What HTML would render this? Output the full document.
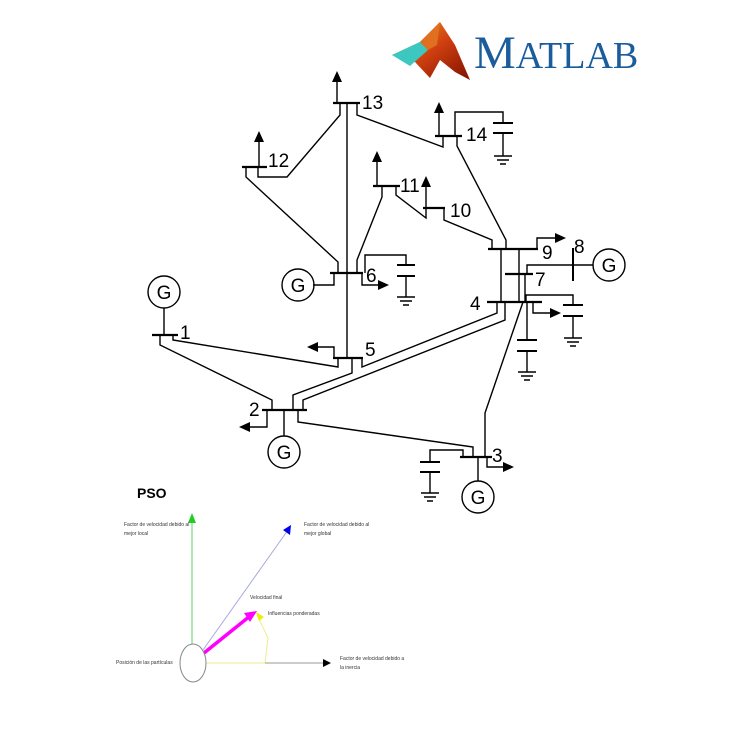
<!DOCTYPE html>
<html><head><meta charset="utf-8"><style>
html,body{margin:0;padding:0;background:#fff;}
svg{display:block;}
text{font-family:"Liberation Sans",sans-serif;}
</style></head><body>
<svg width="750" height="750" viewBox="0 0 750 750" xmlns="http://www.w3.org/2000/svg">
<defs>
<linearGradient id="mg" x1="0" y1="0" x2="1" y2="1">
<stop offset="0" stop-color="#f0a020"/><stop offset="0.5" stop-color="#d04010"/><stop offset="1" stop-color="#801000"/>
</linearGradient>
</defs>
<!-- MATLAB logo -->
<polygon points="392,55 420,42 440,22 455,45 470,80 455,72 440,60 430,78 415,62" fill="url(#mg)"/>
<polygon points="392,55 420,42 428,50 410,66" fill="#3cc8c0"/>
<polygon points="420,42 440,22 437,45 428,50" fill="#e07020"/>
<text x="474" y="68" style="font-family:'Liberation Serif',serif" font-size="47" fill="#1a5c9c">M<tspan font-size="38">ATLAB</tspan></text>

<g stroke="#000" stroke-width="1.4" fill="none">
<line x1="333" y1="103" x2="360" y2="103" stroke-width="2.2"/>
<line x1="337" y1="103" x2="337" y2="80"/>
<line x1="347" y1="103" x2="347" y2="358"/>
<polyline points="340,103 340,115 287,177 258,177 258,167"/>
<polyline points="357,103 357,115 443,147 443,136"/>
<line x1="242" y1="167" x2="267" y2="167" stroke-width="2.2"/>
<line x1="259" y1="167" x2="259" y2="140"/>
<polyline points="246,167 246,177 338,262 338,273"/>
<line x1="435" y1="136" x2="462" y2="136" stroke-width="2.2"/>
<line x1="439" y1="136" x2="439" y2="111"/>
<polyline points="455,136 455,112 503,112 503,123"/>
<line x1="493" y1="123" x2="513" y2="123" stroke-width="2"/>
<line x1="493" y1="133" x2="513" y2="133" stroke-width="2"/>
<line x1="503" y1="133" x2="503" y2="156"/>
<polyline points="457,136 457,146 506,240 506,249"/>
<line x1="373" y1="186" x2="400" y2="186" stroke-width="2.2"/>
<line x1="377" y1="186" x2="377" y2="160"/>
<polyline points="382,186 382,197 357,260 357,273"/>
<polyline points="396,186 396,195 426,218 426,208"/>
<line x1="423" y1="208" x2="445" y2="208" stroke-width="2.2"/>
<line x1="426" y1="208" x2="426" y2="185"/>
<polyline points="444,208 444,220 492,240 492,249"/>
<line x1="488" y1="249" x2="538" y2="249" stroke-width="2.2"/>
<polyline points="537,249 537,238 558,238"/>
<line x1="501" y1="249" x2="501" y2="302"/>
<line x1="519" y1="249" x2="519" y2="302"/>
<line x1="505" y1="274" x2="533" y2="274" stroke-width="2.2"/>
<polyline points="527,274 527,265 593,265"/>
<line x1="573" y1="248" x2="573" y2="281" stroke-width="2"/>
<line x1="525" y1="274" x2="525" y2="302"/>
<line x1="487" y1="302" x2="542" y2="302" stroke-width="2.2"/>
<polyline points="533,302 533,313 552,313"/>
<polyline points="526,302 526,295 573,295 573,305"/>
<line x1="563" y1="305" x2="583" y2="305" stroke-width="2"/>
<line x1="563" y1="316" x2="583" y2="316" stroke-width="2"/>
<line x1="573" y1="316" x2="573" y2="338"/>
<line x1="527" y1="302" x2="527" y2="340"/>
<line x1="517" y1="340" x2="537" y2="340" stroke-width="2"/>
<line x1="517" y1="351" x2="537" y2="351" stroke-width="2"/>
<line x1="527" y1="351" x2="527" y2="372"/>
<polyline points="497,302 497,313 362,367 362,358"/>
<polyline points="505,302 505,320 303,400 303,410"/>
<polyline points="523,302 485,413 485,457"/>
<line x1="330" y1="273" x2="363" y2="273" stroke-width="2.2"/>
<polyline points="313,285 334,285 334,273"/>
<polyline points="362,273 362,285 380,285"/>
<polyline points="365,273 365,255 406,255 406,265"/>
<line x1="397" y1="265" x2="415" y2="265" stroke-width="2"/>
<line x1="397" y1="276" x2="415" y2="276" stroke-width="2"/>
<line x1="406" y1="276" x2="406" y2="297"/>
<line x1="333" y1="358" x2="363" y2="358" stroke-width="2.2"/>
<polyline points="334,358 334,347 316,347"/>
<polyline points="352,358 352,373 293,395 293,410"/>
<line x1="152" y1="335" x2="178" y2="335" stroke-width="2.2"/>
<line x1="164" y1="308" x2="164" y2="335"/>
<polyline points="173,335 173,340 338,367 338,358"/>
<polyline points="160,335 160,345 272,400 272,410"/>
<line x1="262" y1="410" x2="307" y2="410" stroke-width="2.2"/>
<polyline points="267,410 267,427 248,427"/>
<line x1="284" y1="410" x2="284" y2="436"/>
<polyline points="298,410 298,422 473,447 473,457"/>
<line x1="460" y1="457" x2="492" y2="457" stroke-width="2.2"/>
<polyline points="487,457 487,467 505,467"/>
<line x1="478" y1="457" x2="478" y2="481"/>
<polyline points="463,457 463,450 430,450 430,462"/>
<line x1="420" y1="462" x2="440" y2="462" stroke-width="2"/>
<line x1="420" y1="472" x2="440" y2="472" stroke-width="2"/>
<line x1="430" y1="472" x2="430" y2="493"/>
<g stroke-width="1.4">
<path d="M494,156h18M497,160h12M500,164h6"/>
<path d="M564,338h18M567,342h12M570,346h6"/>
<path d="M518,372h18M521,376h12M524,380h6"/>
<path d="M397,297h18M400,301h12M403,305h6"/>
<path d="M421,493h18M424,497h12M427,501h6"/>
</g>
<circle cx="164" cy="292" r="16"/>
<circle cx="298" cy="285" r="16"/>
<circle cx="284" cy="452" r="16"/>
<circle cx="478" cy="497" r="16"/>
<circle cx="609" cy="265" r="16"/>
</g>
<g fill="#000">
<polygon points="337,71 332,82 342,82"/>
<polygon points="259,131 254,142 264,142"/>
<polygon points="439,102 434,113 444,113"/>
<polygon points="377,151 372,162 382,162"/>
<polygon points="426,176 421,187 431,187"/>
<polygon points="566,238 555,233 555,243"/>
<polygon points="561,313 550,308 550,318"/>
<polygon points="389,285 378,280 378,290"/>
<polygon points="307,347 318,342 318,352"/>
<polygon points="239,427 250,422 250,432"/>
<polygon points="514,467 503,462 503,472"/>
</g>
<g font-size="19" fill="#000">
<text x="362" y="109">13</text>
<text x="268" y="167">12</text>
<text x="466" y="141">14</text>
<text x="400" y="192">11</text>
<text x="450" y="217">10</text>
<text x="542" y="259">9</text>
<text x="574" y="253">8</text>
<text x="535" y="286">7</text>
<text x="470" y="310">4</text>
<text x="366" y="282">6</text>
<text x="365" y="356">5</text>
<text x="180" y="339">1</text>
<text x="249" y="416">2</text>
<text x="492" y="462">3</text>
</g>
<g font-size="19" fill="#000" text-anchor="middle">
<text x="164" y="299">G</text>
<text x="298" y="292">G</text>
<text x="284" y="459">G</text>
<text x="478" y="504">G</text>
<text x="609" y="272">G</text>
</g>

<text x="137" y="498" font-size="14" font-weight="bold">PSO</text>
<line x1="192" y1="647" x2="192" y2="522" stroke="#66cc66" stroke-width="1"/>
<polygon points="192,513 188,523 196,523" fill="#22cc22"/>
<line x1="203" y1="650" x2="288" y2="530" stroke="#aaaadd" stroke-width="1"/>
<polygon points="291,525 283,530 290,535" fill="#0000ee"/>
<polyline points="206,663 265,663 268,638 257,615" stroke="#eeee88" stroke-width="1" fill="none"/>
<polygon points="256,612 264,617 259,621" fill="#eeee00"/>
<line x1="265" y1="663" x2="325" y2="663" stroke="#999" stroke-width="1"/>
<polygon points="331,663 323,659 323,667" fill="#000"/>
<line x1="204" y1="653" x2="250" y2="616" stroke="#ff00ff" stroke-width="3.5"/>
<polygon points="257,611 244,613 250,622" fill="#ff00ff"/>
<ellipse cx="193" cy="663" rx="13" ry="19" fill="#fff" stroke="#888" stroke-width="1"/>
<g font-size="5" fill="#333">
<text x="124" y="526">Factor de velocidad debido al</text>
<text x="124" y="535">mejor local</text>
<text x="304" y="526">Factor de velocidad debido al</text>
<text x="304" y="535">mejor global</text>
<text x="250" y="599">Velocidad final</text>
<text x="268" y="615">Influencias ponderadas</text>
<text x="116" y="664">Posición de las partículas</text>
<text x="340" y="660">Factor de velocidad debido a</text>
<text x="340" y="669">la inercia</text>
</g>
</svg>
</body></html>
